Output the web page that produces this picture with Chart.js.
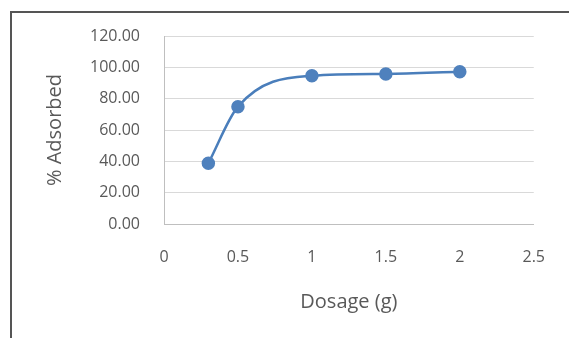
<!DOCTYPE html>
<html>
<head>
<meta charset="utf-8">
<script src="https://cdn.jsdelivr.net/npm/chart.js@4/dist/chart.umd.min.js"></script>
<style>
  body { margin: 0; background: #fff; overflow: hidden; }
  #wrap { position: relative; width: 569px; height: 338px; overflow: hidden; }
  #frame { position: absolute; left: 10px; top: 11px; width: 700px; height: 500px;
           border-left: 2px solid #555; border-top: 2px solid #555; }
  canvas { position: absolute; left: 0; top: 0; }
</style>
</head>
<body>
<div id="wrap">
  <div id="frame"></div>
  <canvas id="Dosage_Chart" width="569" height="338"></canvas>
</div>
<script>
// Werte
let dosage = [0.3, 0.5, 1, 1.5, 2];
let adsorbed = [38.8, 74.9, 94.6, 95.8, 97.2];
let x_ticks = [0, 0.5, 1, 1.5, 2, 2.5];
let y_ticks = [0, 20, 40, 60, 80, 100, 120];

let tick_font = { family: 'Open Sans', size: 16 };
let title_font = { family: 'Open Sans', size: 20 };

let points = dosage.map((d, i) => ({ x: d, y: adsorbed[i] }));

let dosage_c = document.getElementById('Dosage_Chart');
let d_chart = new Chart(dosage_c, {
    type: 'scatter',
    data: {
        datasets: [{
            label: "% Adsorbed",
            data: points,
            showLine: true,
            cubicInterpolationMode: 'monotone',
            borderColor: '#4a7ebb',
            borderWidth: 2.5,
            backgroundColor: '#4f81bd',
            pointBackgroundColor: '#4f81bd',
            pointBorderColor: '#4f81bd',
            pointRadius: 5.5
        }]
    },
    options: {
        responsive: false,
        animation: false,
        layout: { padding: { left: 0, right: 29, top: 36, bottom: 0 } },
        plugins: { legend: { display: false }, tooltip: { enabled: false } },
        scales: {
            x: {
                type: 'linear',
                min: x_ticks[0],
                max: x_ticks[x_ticks.length - 1],
                afterBuildTicks: s => { s.ticks = x_ticks.map(v => ({ value: v })); },
                afterFit: s => { s.height = 114; },
                grid: { display: false, drawTicks: false },
                border: { display: true, color: '#bfbfbf', width: 1 },
                ticks: { color: '#595959', font: tick_font, padding: 24, maxRotation: 0,
                         callback: v => String(v) },
                title: { display: true, text: 'Dosage (g)', color: '#595959', font: title_font,
                         padding: { top: 0, bottom: 24 } }
            },
            y: {
                min: y_ticks[0],
                max: y_ticks[y_ticks.length - 1],
                afterBuildTicks: s => { s.ticks = y_ticks.map(v => ({ value: v })); },
                afterFit: s => { s.width = 164; },
                grid: { color: '#d9d9d9', lineWidth: 1, drawTicks: false },
                border: { display: true, color: '#bfbfbf', width: 1 },
                ticks: { color: '#595959', font: tick_font, padding: 24,
                         callback: v => v.toFixed(2) },
                title: { display: true, text: '% Adsorbed', color: '#595959', font: title_font,
                         padding: { top: 43, bottom: 0 } }
            }
        }
    }
});
</script>
</body>
</html>
